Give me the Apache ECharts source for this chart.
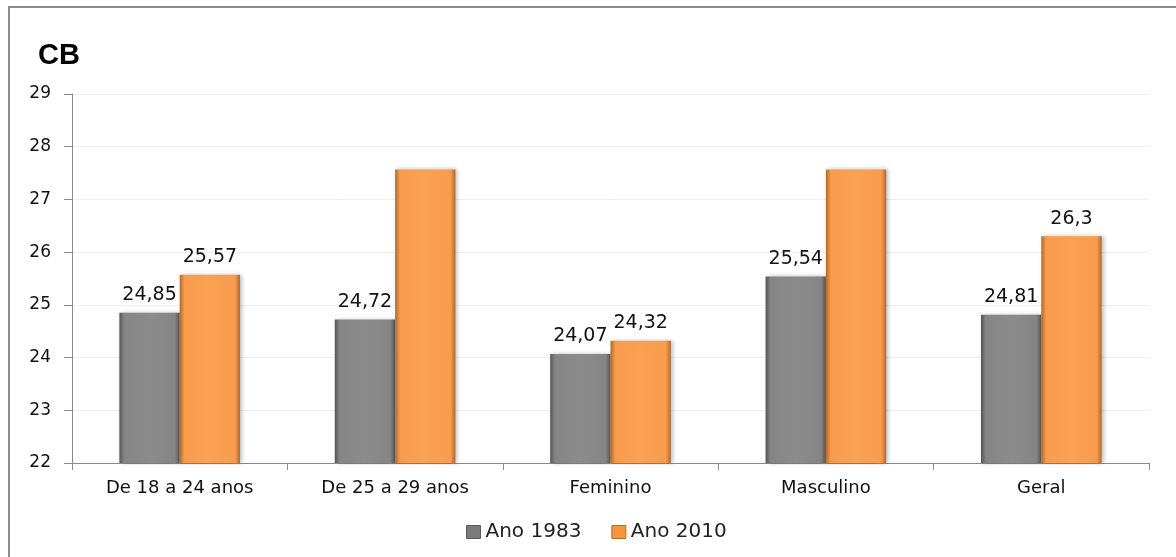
<!DOCTYPE html>
<html>
<head>
<meta charset="utf-8">
<style>
  html, body { margin: 0; padding: 0; background: #fff; }
  #chart { width: 1176px; height: 557px; }
</style>
<script src="https://cdn.jsdelivr.net/npm/echarts@6/dist/echarts.min.js"></script>
</head>
<body>
<div id="chart"></div>
<script>
// dados
const categories = ["De 18 a 24 anos", "De 25 a 29 anos", "Feminino", "Masculino", "Geral"];
const ano1983 = [24.85, 24.72, 24.07, 25.54, 24.81];
const ano2010 = [25.57, 27.57, 24.32, 27.57, 26.3];
// rótulos que não aparecem no original
const hidden2010 = [false, true, false, true, false];
const yTicks = [22, 23, 24, 25, 26, 27, 28, 29];

const fmt = v => String(v).replace(".", ",");
const FONT = "'DejaVu Sans', 'Open Sans', sans-serif";

// gradiente horizontal para imitar o bisel
const bevel = (edge, base, light) => new echarts.graphic.LinearGradient(0, 0, 1, 0, [
  { offset: 0, color: edge },
  { offset: 0.08, color: base },
  { offset: 0.5, color: light },
  { offset: 0.92, color: base },
  { offset: 1, color: edge },
]);

const greyStyle = {
  color: bevel("#555555", "#858585", "#8b8b8b"),
  shadowColor: "rgba(0,0,0,0.25)",
  shadowBlur: 4,
  shadowOffsetX: 2,
};
const orangeStyle = {
  color: bevel("#b06a2c", "#f89b4c", "#fba152"),
  shadowColor: "rgba(0,0,0,0.25)",
  shadowBlur: 4,
  shadowOffsetX: 2,
};

const labelStyle = {
  show: true,
  position: "top",
  distance: 8,
  color: "#111",
  fontFamily: FONT,
  fontSize: 19,
  formatter: p => fmt(p.value),
};

const chart = echarts.init(document.getElementById("chart"));

chart.setOption({
  animation: false,
  textStyle: { fontFamily: FONT },
  graphic: [
    {
      type: "rect",
      shape: { x: 9, y: 7, width: 1170, height: 560 },
      style: { fill: "none", stroke: "#8c8c8c", lineWidth: 2 },
    },
    {
      type: "text",
      left: 38,
      top: 41,
      style: { text: "CB", font: "bold 29px 'Liberation Sans', Arial, sans-serif", fill: "#000" },
    },
  ],
  legend: {
    top: 517,
    left: 461,
    itemWidth: 14,
    itemHeight: 13,
    itemGap: 30,
    icon: "rect",
    textStyle: { fontSize: 20, color: "#222", fontFamily: FONT },
    data: [
      { name: "Ano 1983", itemStyle: { color: "#7a7a7a", borderColor: "#5a5a5a", borderWidth: 1 } },
      { name: "Ano 2010", itemStyle: { color: "#f7963f", borderColor: "#b86a2a", borderWidth: 1 } },
    ],
  },
  grid: { left: 72, right: 27, top: 94, bottom: 94 },
  xAxis: {
    type: "category",
    data: categories,
    axisLine: { lineStyle: { color: "#8a8a8a", width: 1 } },
    axisTick: { show: true, length: 7, alignWithLabel: false, lineStyle: { color: "#8a8a8a" } },
    axisLabel: { color: "#111", fontSize: 18, margin: 16 },
  },
  yAxis: {
    type: "value",
    min: yTicks[0],
    max: yTicks[yTicks.length - 1],
    interval: 1,
    axisLine: { show: true, lineStyle: { color: "#8a8a8a" } },
    axisTick: { show: true, length: 8, lineStyle: { color: "#8a8a8a" } },
    axisLabel: { color: "#111", fontSize: 17, margin: 21 },
    splitLine: { lineStyle: { color: "#efefef" } },
  },
  series: [
    {
      name: "Ano 1983",
      type: "bar",
      barGap: "0%",
      barCategoryGap: "44%",
      itemStyle: greyStyle,
      label: labelStyle,
      data: ano1983,
    },
    {
      name: "Ano 2010",
      type: "bar",
      itemStyle: orangeStyle,
      label: labelStyle,
      data: ano2010.map((v, i) => ({ value: v, label: { show: !hidden2010[i] } })),
    },
  ],
});
</script>
</body>
</html>
